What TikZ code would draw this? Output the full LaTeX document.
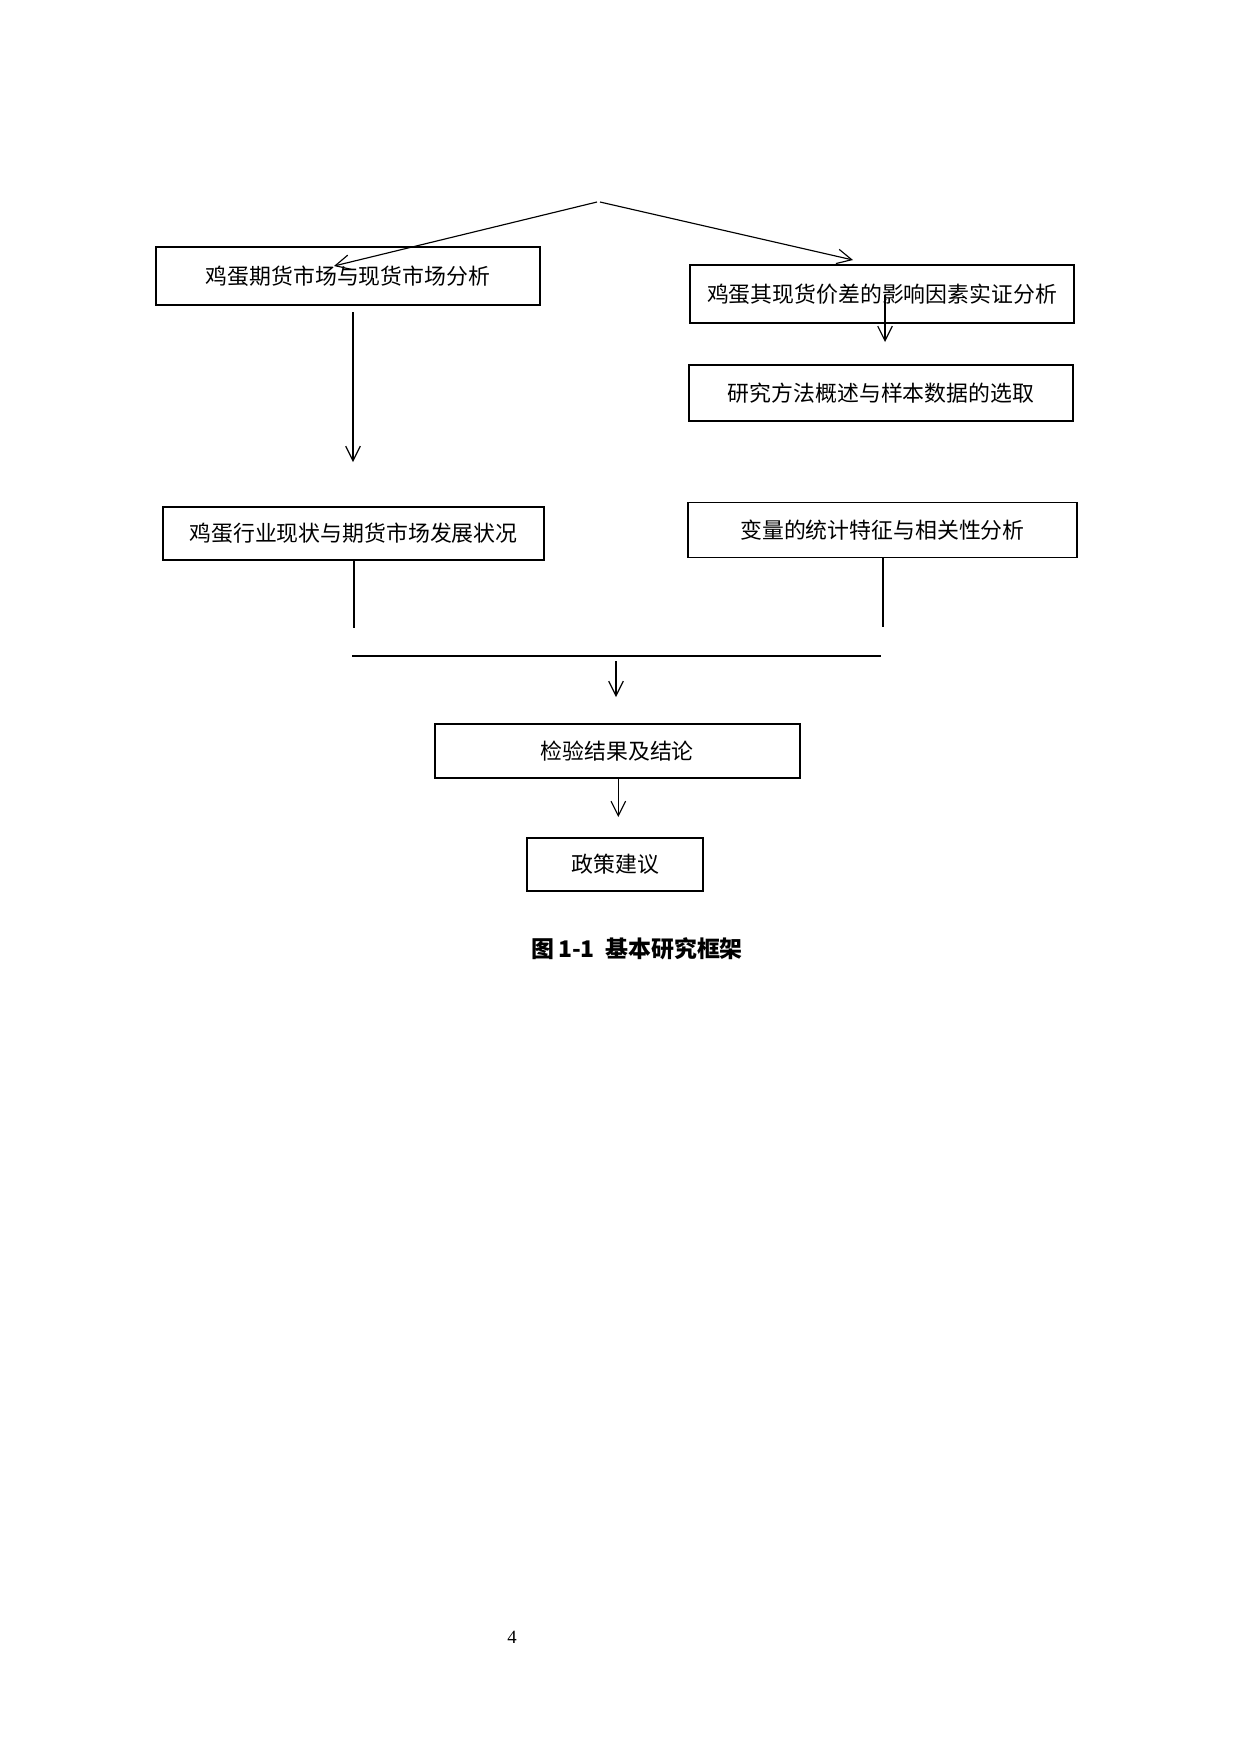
\documentclass[tikz,border=0pt]{standalone}
\usepackage{fontspec}
\setmainfont{Liberation Serif}
\newfontfamily\cjk{Noto Sans CJK SC}
\usetikzlibrary{arrows.meta}
\begin{document}
\begin{tikzpicture}[x=0.48pt,y=-0.48pt,
  box/.style={draw,line width=0.8pt,rectangle,inner sep=0pt,font=\cjk\fontsize{10.5pt}{12pt}\selectfont},
  arr/.style={line width=0.55pt,-{Straight Barb[length=7pt,width=7pt,line width=0.55pt]}},
  ln/.style={line width=0.75pt}]
\useasboundingbox[fill=white] (0,0) rectangle (1240,1754);
\node[box,minimum width=384*0.48pt,minimum height=58*0.48pt] (b1) at (348,276) {鸡蛋期货市场与现货市场分析};
\node[box,minimum width=384*0.48pt,minimum height=58*0.48pt] (b2) at (882,294) {鸡蛋其现货价差的影响因素实证分析};
\node[box,minimum width=384*0.48pt,minimum height=56*0.48pt] (b3) at (881,393) {研究方法概述与样本数据的选取};
\node[box,minimum width=381*0.48pt,minimum height=53*0.48pt] (b4) at (353.5,533.5) {鸡蛋行业现状与期货市场发展状况};
\node[box,minimum width=389*0.48pt,minimum height=55*0.48pt] (b5) at (882.5,530) {变量的统计特征与相关性分析};
\node[box,minimum width=365*0.48pt,minimum height=54*0.48pt] (b6) at (617.3,751) {检验结果及结论};
\node[box,minimum width=176*0.48pt,minimum height=53*0.48pt] (b7) at (615.3,864.3) {政策建议};
\coordinate (apexL) at (597,202);
\coordinate (apexR) at (600,202);
\coordinate (t1) at (334,266);
\coordinate (t2) at (853,260);
\coordinate (s3) at (885,295);
\coordinate (t3) at (885,342);
\coordinate (s4) at (353,312);
\coordinate (t4) at (353,462);
\coordinate (e5) at (354,628);
\coordinate (e6) at (883,627);
\coordinate (hL) at (352,656);
\coordinate (hR) at (881,656);
\coordinate (s8) at (616,661);
\coordinate (t8) at (616,697);
\coordinate (t9) at (618.3,817);
\draw[arr] (apexL) -- (t1);
\draw[arr] (apexR) -- (t2);
\draw[arr] (s3) -- (t3);
\draw[arr] (s4) -- (t4);
\draw[ln] (b4.south) ++(0.5,0) coordinate (s5) (s5) -- (s5 |- e5);
\draw[ln] (b5.south) ++(0.5,0) coordinate (s6) (s6) -- (s6 |- e6);
\draw[line width=0.95pt] (hL) -- (hR);
\draw[arr] (s8) -- (t8);
\draw[arr] (b6.south) ++(1,0) coordinate (s9) (s9) -- (s9 |- t9);
\node[font=\cjk\bfseries\fontsize{11pt}{14pt}\selectfont] (cap) at (637,949) {图\hspace{2pt}1-1\hspace{5pt}基本研究框架};
\node[font=\fontsize{9pt}{11pt}\selectfont] (pg) at (512,1637) {4};
\end{tikzpicture}
\end{document}
